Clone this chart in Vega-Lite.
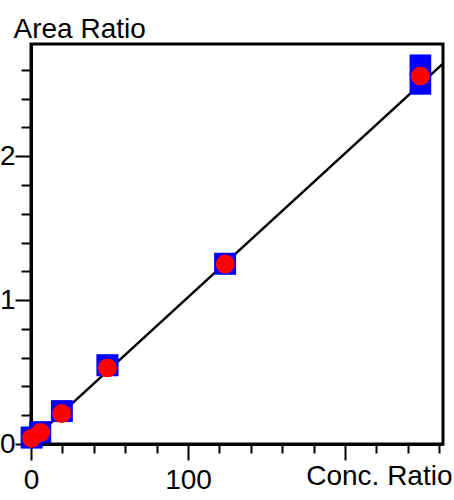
{
  "$schema": "https://vega.github.io/schema/vega-lite/v6.json",
  "width": 412,
  "height": 400,
  "autosize": {"type": "none"},
  "padding": {"left": 31, "top": 44, "right": 11, "bottom": 56},
  "background": "white",
  "config": {
    "view": {"stroke": "black", "strokeWidth": 3},
    "font": "Liberation Sans",
    "axis": {
      "domainColor": "black",
      "domainWidth": 3,
      "tickColor": "black",
      "tickWidth": 2,
      "labelFont": "Liberation Sans",
      "labelFontSize": 28,
      "labelColor": "black",
      "titleFont": "Liberation Sans",
      "titleFontSize": 28,
      "titleFontWeight": "normal",
      "titleColor": "black",
      "grid": false,
      "labelOverlap": false,
      "labelFlush": false
    }
  },
  "datasets": {
    "fit": [
      {"conc": 0, "ratio": 0.02},
      {"conc": 262, "ratio": 2.64}
    ],
    "replicates": [
      {"conc": 0.4, "ratio": 0.045},
      {"conc": 0.4, "ratio": 0.045},
      {"conc": 5.9, "ratio": 0.082},
      {"conc": 5.9, "ratio": 0.082},
      {"conc": 19.6, "ratio": 0.228},
      {"conc": 19.6, "ratio": 0.228},
      {"conc": 48.7, "ratio": 0.547},
      {"conc": 48.7, "ratio": 0.547},
      {"conc": 123.7, "ratio": 1.253},
      {"conc": 123.7, "ratio": 1.253},
      {"conc": 248, "ratio": 2.632},
      {"conc": 248, "ratio": 2.503}
    ],
    "means": [
      {"conc": 0.4, "ratio": 0.04},
      {"conc": 6.1, "ratio": 0.08},
      {"conc": 19.6, "ratio": 0.212},
      {"conc": 48.7, "ratio": 0.529},
      {"conc": 123.7, "ratio": 1.251},
      {"conc": 248, "ratio": 2.557}
    ]
  },
  "encoding": {
    "x": {
      "field": "conc",
      "type": "quantitative",
      "scale": {"domain": [0, 262.4], "nice": false, "zero": false},
      "axis": {
        "title": "Conc. Ratio",
        "format": "d",
        "values": [0, 20, 40, 60, 80, 100, 120, 140, 160, 180, 200, 220, 240, 260],
        "labelExpr": "datum.value == 0 || datum.value == 100 ? datum.label : ''",
        "tickSize": {"condition": {"test": "datum.value % 100 == 0", "value": 16}, "value": 9},
        "labelPadding": 6,
        "titleAnchor": "end",
        "titleAlign": "right",
        "titleBaseline": "alphabetic",
        "titleX": 421,
        "titleY": 40
      }
    },
    "y": {
      "field": "ratio",
      "type": "quantitative",
      "scale": {"domain": [0, 2.78], "nice": false, "zero": false},
      "axis": {
        "title": "Area Ratio",
        "format": "~g",
        "values": [0, 0.2, 0.4, 0.6, 0.8, 1, 1.2, 1.4, 1.6, 1.8, 2, 2.2, 2.4, 2.6],
        "labelExpr": "datum.value % 1 == 0 ? datum.label : ''",
        "tickSize": {"condition": {"test": "datum.value % 1 == 0", "value": 16}, "value": 10},
        "labelPadding": 0,
        "titleAngle": 0,
        "titleAlign": "left",
        "titleBaseline": "alphabetic",
        "titleX": -18,
        "titleY": -7
      }
    }
  },
  "layer": [
    {
      "data": {"name": "fit"},
      "mark": {"type": "line", "color": "black", "strokeWidth": 2.5, "clip": true}
    },
    {
      "data": {"name": "replicates"},
      "mark": {"type": "point", "shape": "square", "filled": true, "color": "#0000ff", "opacity": 1, "size": 470}
    },
    {
      "data": {"name": "means"},
      "mark": {"type": "point", "shape": "circle", "filled": true, "color": "#ff0000", "opacity": 1, "size": 360}
    }
  ]
}
